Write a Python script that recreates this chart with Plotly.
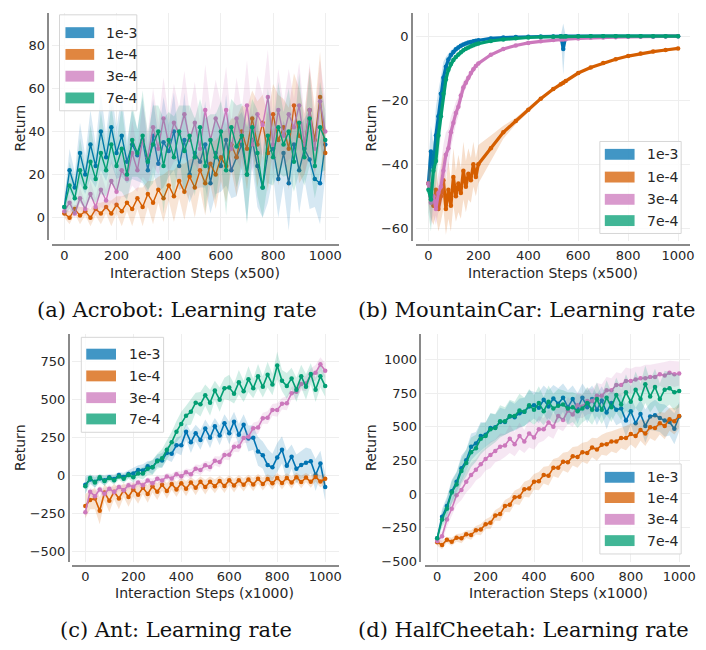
import numpy as np
import plotly.graph_objects as go

W, H = 706, 650
LABELS = ["1e-3", "1e-4", "3e-4", "7e-4"]
COLORS = ["#0173b2", "#d55e00", "#cc78bc", "#029e73"]

# ---------------- (a) Acrobot ----------------
A_steps = list(range(0, 1001, 20))
A_blue = [5, 22, 14, 30, 20, 34, 24, 40, 28, 42, 30, 38, 26, 34, 29, 36, 22, 38, 25, 35,
          31, 40, 24, 36, 20, 30, 26, 34, 16, 30, 24, 36, 22, 28, 34, 20, 36, 24, 14, 30,
          32, 18, 30, 16, 34, 22, 32, 27, 18, 16, 34]
A_orange = [2, 0, 4, 1, 3, 0, 4, 2, 5, 2, 6, 3, 7, 4, 9, 5, 11, 7, 13, 9,
            15, 10, 17, 12, 19, 14, 22, 16, 25, 20, 28, 24, 34, 28, 40, 32, 46, 34, 44, 30,
            48, 36, 42, 32, 52, 38, 34, 50, 36, 56, 30]
A_pink = [3, 7, 2, 9, 4, 11, 5, 13, 8, 17, 12, 22, 18, 30, 22, 36, 28, 42, 32, 46,
          34, 44, 39, 48, 36, 44, 32, 50, 36, 46, 40, 50, 32, 46, 36, 52, 34, 48, 43, 56,
          34, 50, 38, 48, 42, 52, 34, 50, 32, 54, 40]
A_green = [5, 15, 9, 22, 14, 26, 18, 30, 22, 34, 24, 32, 20, 36, 30, 38, 26, 34, 40, 24,
           36, 28, 40, 31, 38, 28, 42, 24, 36, 28, 40, 22, 42, 33, 38, 20, 42, 30, 14, 38,
           28, 42, 34, 40, 26, 44, 28, 46, 24, 42, 36]
A_blue_sd = [4, 10, 7, 14, 9, 16, 10, 18, 11, 17, 12, 19, 10, 16, 12, 20, 11, 17, 13, 21,
             12, 18, 11, 22, 13, 17, 12, 20, 14, 19, 12, 21, 13, 18, 15, 22, 12, 19, 14, 23,
             13, 18, 15, 22, 12, 20, 14, 23, 13, 19, 15]
A_orange_sd = [2, 3, 2, 4, 2, 4, 3, 5, 3, 6, 4, 7, 4, 8, 5, 9, 6, 10, 6, 11,
               7, 12, 8, 13, 8, 14, 9, 15, 10, 16, 11, 17, 12, 18, 12, 19, 13, 20, 13, 18,
               14, 21, 13, 19, 15, 22, 14, 20, 15, 21, 14]
A_pink_sd = [2, 4, 2, 5, 3, 6, 4, 8, 5, 10, 7, 12, 9, 15, 10, 17, 12, 18, 12, 19,
             13, 18, 12, 20, 13, 19, 12, 21, 14, 18, 13, 20, 12, 19, 14, 21, 13, 18, 14, 22,
             13, 19, 15, 21, 13, 20, 14, 22, 13, 19, 15]
A_green_sd = [4, 11, 8, 15, 10, 17, 11, 19, 12, 18, 11, 20, 12, 17, 11, 21, 13, 18, 12, 22,
              13, 19, 12, 21, 14, 18, 13, 22, 12, 20, 14, 21, 13, 19, 15, 23, 13, 20, 14, 22,
              13, 21, 15, 20, 14, 23, 13, 22, 15, 21, 14]

# ---------------- (b) MountainCar ----------------
B_steps = [0, 10, 20, 30, 40, 50, 60, 70, 80, 90, 100, 110, 120, 130, 140, 150, 160, 170, 180, 190,
           200, 250, 300, 350, 400, 450, 500, 530, 540, 550, 600, 650, 700, 750, 800, 850, 900, 950, 1000]
B_blue = [-46, -36, -41, -31, -25, -18, -13, -9.5, -7.3, -5.9, -4.9, -4.1, -3.5, -3.0, -2.6, -2.3, -2.0, -1.8, -1.6, -1.4,
          -1.25, -0.7, -0.4, -0.25, -0.15, -0.1, -0.05, 0, -4, 0, 0, 0, 0, 0, 0, 0, -0.1, 0, 0]
B_orange = [-46, -50, -53, -48, -54, -50, -45, -54, -48, -53, -44, -50, -46, -49, -42, -47, -43, -45, -40, -44,
            -40, -35, -30, -26.5, -23, -19.5, -16.5, -15, -14.5, -14, -11.5, -9.8, -8.4, -7.2, -6.2, -5.4, -4.8, -4.3, -3.8]
B_pink = [-46, -52, -50, -54, -49, -47, -42, -37, -35, -30, -27, -24, -22, -18.5, -16, -14.5, -13, -11.5, -10.3, -9.3,
          -8.5, -5.8, -4.0, -2.9, -2.1, -1.6, -1.2, -1.05, -1.0, -0.95, -0.7, -0.5, -0.4, -0.3, -0.2, -0.15, -0.1, -0.05, 0]
B_green = [-48, -51, -42, -39, -31, -25, -18, -13.5, -10.5, -8.7, -7.4, -6.5, -5.7, -5.0, -4.4, -3.9, -3.5, -3.1, -2.8, -2.5,
           -2.3, -1.5, -1.0, -0.6, -0.4, -0.25, -0.15, -0.12, -0.1, -0.1, -0.05, 0, 0, 0, 0, 0, 0, 0, 0]
B_blue_sd = [6, 8, 7, 9, 8, 6, 5, 3, 2, 1.5, 1.2, 1, 0.8, 0.7, 0.6, 0.5, 0.5, 0.4, 0.4, 0.3,
             0.3, 0.2, 0.2, 0.1, 0.1, 0.1, 0.1, 0.1, 8, 0.1, 0.1, 0.1, 0.1, 0.1, 0.1, 0.1, 0.2, 0.1, 0.1]
B_orange_sd = [6, 7, 6, 8, 7, 8, 9, 8, 9, 8, 9, 8, 9, 8, 9, 8, 8, 7, 7, 6,
               6, 4, 2, 1, 0.8, 0.6, 0.5, 0.5, 0.5, 0.5, 0.4, 0.4, 0.3, 0.3, 0.3, 0.2, 0.2, 0.2, 0.2]
B_pink_sd = [6, 7, 6, 5, 6, 7, 8, 7, 6, 5, 4, 3.5, 3, 2.5, 2, 1.6, 1.3, 1, 0.9, 0.8,
             0.7, 0.5, 0.4, 0.3, 0.3, 0.2, 0.2, 0.2, 0.2, 0.2, 0.2, 0.1, 0.1, 0.1, 0.1, 0.1, 0.1, 0.1, 0.1]
B_green_sd = [7, 10, 9, 8, 7, 5, 4, 3, 2, 1.5, 1.2, 1, 0.8, 0.7, 0.6, 0.5, 0.5, 0.4, 0.4, 0.3,
              0.3, 0.2, 0.2, 0.1, 0.1, 0.1, 0.1, 0.1, 0.1, 0.1, 0.1, 0.1, 0.1, 0.1, 0.1, 0.1, 0.1, 0.1, 0.1]

# ---------------- (c) Ant ----------------
C_steps = list(range(0, 1001, 20))
C_blue = [-60, -25, -40, -18, -30, -10, -22, 5, -8, 12, 15, 38, 35, 62, 55, 100, 100, 150, 145, 200,
          200, 290, 220, 280, 235, 310, 250, 325, 265, 345, 280, 355, 270, 335, 245, 250, 160, 135, 70, 55,
          120, 170, 65, 125, 45, 70, 85, 95, 5, 80, -75]
C_orange = [-200, -160, -150, -230, -110, -165, -105, -150, -95, -140, -90, -125, -80, -120, -70, -105, -60, -100, -55, -90,
            -50, -85, -45, -80, -40, -75, -40, -70, -35, -68, -30, -65, -30, -60, -25, -58, -20, -55, -22, -50,
            -15, -48, -15, -45, -10, -42, -12, -40, -8, -38, -20]
C_pink = [-240, -105, -135, -90, -118, -85, -108, -75, -95, -62, -72, -45, -62, -32, -50, -20, -32, -5, -18, 10,
          -4, 22, 10, 46, 37, 68, 58, 98, 90, 136, 138, 190, 192, 248, 257, 313, 317, 378, 382, 433,
          432, 473, 477, 543, 552, 603, 607, 663, 677, 733, 690]
C_green = [-70, -15, -45, -10, -35, -15, -30, -5, -20, 5, -10, 15, 15, 45, 55, 95, 115, 170, 220, 290,
           340, 395, 420, 480, 470, 530, 480, 560, 500, 575, 580, 540, 615, 555, 635, 575, 655, 585, 665, 600,
           725, 625, 590, 640, 565, 655, 585, 670, 565, 655, 590]
C_blue_sd = [60, 30, 40, 25, 35, 20, 30, 20, 28, 25, 35, 30, 40, 35, 45, 40, 50, 45, 55, 50,
             65, 55, 70, 55, 65, 60, 70, 55, 65, 60, 75, 65, 70, 70, 85, 80, 95, 90, 105, 90,
             95, 90, 100, 80, 95, 90, 100, 80, 105, 85, 90]
C_orange_sd = [80, 60, 70, 90, 55, 75, 50, 70, 45, 65, 45, 60, 40, 58, 40, 55, 38, 52, 38, 50,
               36, 50, 35, 48, 35, 48, 34, 46, 34, 46, 33, 45, 33, 44, 32, 44, 32, 43, 32, 42,
               31, 42, 31, 41, 30, 41, 30, 40, 30, 40, 32]
C_pink_sd = [40, 25, 35, 22, 32, 22, 30, 22, 30, 22, 30, 22, 30, 22, 30, 22, 30, 22, 30, 24,
             30, 26, 32, 28, 34, 28, 34, 30, 36, 30, 36, 32, 38, 34, 40, 36, 42, 36, 42, 38,
             44, 38, 46, 40, 48, 42, 50, 44, 52, 46, 50]
C_green_sd = [50, 25, 35, 22, 32, 22, 30, 22, 30, 25, 35, 30, 40, 40, 50, 50, 60, 60, 70, 70,
              80, 65, 85, 65, 80, 70, 85, 65, 80, 70, 85, 65, 80, 70, 85, 65, 80, 70, 85, 70,
              90, 70, 85, 70, 80, 75, 85, 70, 80, 75, 70]

# ---------------- (d) HalfCheetah ----------------
D_steps = list(range(0, 1001, 20))
D_blue = [-330, -170, -90, 20, 90, 190, 250, 350, 375, 430, 440, 490, 495, 535, 535, 575, 570, 600, 610, 650,
          660, 640, 700, 650, 710, 670, 715, 645, 705, 635, 715, 645, 705, 625, 695, 605, 675, 625, 635, 545,
          615, 525, 595, 505, 575, 585, 565, 545, 535, 485, 575]
D_orange = [-360, -380, -340, -355, -325, -330, -300, -305, -270, -265, -225, -215, -160, -150, -90, -80, -25, -20, 35, 40,
            90, 95, 140, 135, 195, 195, 240, 235, 280, 275, 310, 305, 345, 330, 365, 370, 390, 390, 415, 415,
            445, 430, 475, 450, 495, 490, 525, 505, 555, 540, 580]
D_pink = [-350, -315, -190, -110, -10, 30, 90, 140, 180, 220, 260, 290, 320, 350, 360, 410, 370, 430, 390, 450,
          420, 480, 480, 530, 500, 580, 550, 620, 590, 660, 650, 690, 690, 730, 730, 770, 770, 810, 810, 840,
          840, 850, 860, 860, 870, 870, 890, 880, 900, 890, 895]
D_green = [-330, -190, -110, 10, 70, 170, 230, 310, 340, 410, 430, 480, 490, 540, 540, 580, 580, 620, 610, 660,
           625, 675, 615, 685, 635, 655, 665, 635, 645, 615, 635, 675, 625, 705, 625, 715, 645, 735, 665, 755,
           685, 775, 705, 815, 725, 795, 705, 775, 785, 755, 765]
D_blue_sd = [30, 60, 70, 85, 75, 95, 80, 100, 85, 105, 90, 110, 95, 105, 95, 115, 100, 110, 105, 120,
             100, 115, 105, 120, 100, 115, 105, 125, 100, 115, 105, 120, 100, 115, 105, 125, 100, 115, 105, 120,
             100, 115, 105, 125, 100, 115, 105, 120, 100, 115, 110]
D_orange_sd = [25, 32, 22, 30, 28, 36, 28, 36, 32, 42, 36, 46, 40, 52, 45, 56, 50, 62, 55, 66,
               58, 68, 62, 72, 64, 76, 66, 78, 68, 80, 70, 82, 72, 84, 74, 86, 75, 88, 76, 90,
               78, 92, 80, 94, 82, 96, 84, 98, 86, 98, 90]
D_pink_sd = [25, 40, 55, 60, 70, 75, 80, 90, 80, 95, 85, 100, 85, 100, 85, 105, 90, 100, 85, 105,
             90, 100, 85, 100, 90, 95, 85, 100, 90, 95, 85, 100, 90, 95, 85, 100, 90, 95, 85, 100,
             90, 95, 85, 100, 90, 95, 85, 100, 90, 95, 90]
D_green_sd = [30, 60, 75, 85, 90, 95, 100, 110, 100, 115, 100, 120, 105, 120, 105, 120, 105, 125, 105, 120,
              110, 125, 105, 120, 110, 125, 105, 120, 110, 125, 105, 120, 110, 125, 105, 130, 110, 130, 115, 135,
              115, 135, 115, 140, 120, 135, 115, 140, 120, 135, 120]

PANELS = [
    dict(steps=A_steps, means=[A_blue, A_orange, A_pink, A_green],
         sds=[A_blue_sd, A_orange_sd, A_pink_sd, A_green_sd],
         xdom=(52, 342), ydom=(13, 243), ypos=48.7, xpos=247.7,
         xr=[-49, 1053], yr=[-10.5, 95], yt=[0, 20, 40, 60, 80],
         lw=1.4, ms=4.5, band=0.16,
         xlabel="Interaction Steps (x500)", xl=(197, 275.5), yl=(20, 130),
         caption="(a) Acrobot: Learning rate", cap=(179, 313),
         leg=dict(box=(60, 15, 138, 112), sw=(66, 95), tx=105, ys=[33, 55, 77, 99])),
    dict(steps=B_steps, means=[B_blue, B_orange, B_pink, B_green],
         sds=[B_blue_sd, B_orange_sd, B_pink_sd, B_green_sd],
         xdom=(420, 696), ydom=(13, 244), ypos=415.3, xpos=247.7,
         xr=[-48, 1048], yr=[-64.1, 7.3], yt=[-60, -40, -20, 0],
         lw=3.2, ms=4.5, band=0.2,
         xlabel="Interaction Steps (x500)", xl=(558, 275.5), yl=(374, 130),
         caption="(b) MountainCar: Learning rate", cap=(532, 313),
         leg=dict(box=(605, 143, 687, 236), sw=(610, 640), tx=651, ys=[156, 179, 201.5, 223])),
    dict(steps=C_steps, means=[C_blue, C_orange, C_pink, C_green],
         sds=[C_blue_sd, C_orange_sd, C_pink_sd, C_green_sd],
         xdom=(73, 342), ydom=(338, 568), ypos=69.3, xpos=571.7,
         xr=[-54, 1058], yr=[-567, 930], yt=[-500, -250, 0, 250, 500, 750],
         lw=1.6, ms=4.5, band=0.18,
         xlabel="Interaction Steps (x1000)", xl=(206, 599.5), yl=(20, 453),
         caption="(c) Ant: Learning rate", cap=(178, 637),
         leg=dict(box=(82, 341, 165, 437), sw=(87, 117), tx=128, ys=[358, 380, 402, 423.5])),
    dict(steps=D_steps, means=[D_blue, D_orange, D_pink, D_green],
         sds=[D_blue_sd, D_orange_sd, D_pink_sd, D_green_sd],
         xdom=(429, 696), ydom=(338, 568), ypos=424, xpos=571.7,
         xr=[-49, 1045], yr=[-505, 1186], yt=[-500, -250, 0, 250, 500, 750, 1000],
         lw=1.6, ms=4.5, band=0.18,
         xlabel="Interaction Steps (x1000)", xl=(563, 599.5), yl=(374, 453),
         caption="(d) HalfCheetah: Learning rate", cap=(528, 637),
         leg=dict(box=(605, 469, 687, 560), sw=(610, 640), tx=651, ys=[482.5, 503, 525, 546.5])),
]


def px(x):
    return x / W


def py(y):
    return 1 - y / H


def rgba(hexc, a):
    h = hexc.lstrip("#")
    r, g, b = int(h[0:2], 16), int(h[2:4], 16), int(h[4:6], 16)
    return f"rgba({r},{g},{b},{a})"


fig = go.Figure()
shapes = []
annotations = []
TXT = "#262626"
FONT = "DejaVu Sans"

for i, p in enumerate(PANELS):
    n = "" if i == 0 else str(i + 1)
    xa, ya = "x" + n, "y" + n
    steps = list(p["steps"])
    for mean, sd, color in zip(p["means"], p["sds"], COLORS):
        m = np.asarray(mean, float)
        s = np.asarray(sd, float)
        up, lo = m + s, m - s
        fig.add_trace(go.Scatter(
            x=steps + steps[::-1], y=list(up) + list(lo[::-1]),
            fill="toself", fillcolor=rgba(color, p["band"]), line=dict(width=0),
            mode="lines", hoverinfo="skip", showlegend=False, xaxis=xa, yaxis=ya))
        fig.add_trace(go.Scatter(
            x=steps, y=mean, mode="lines+markers",
            line=dict(color=color, width=p["lw"]), marker=dict(size=p["ms"], color=color),
            showlegend=False, xaxis=xa, yaxis=ya))

    common = dict(showgrid=True, gridcolor="#eeeeee", gridwidth=1, zeroline=False,
                  showline=True, linecolor="#8a8a8a", linewidth=1.5, ticks="",
                  tickfont=dict(family=FONT, size=13, color=TXT), anchor="free")
    fig.layout["xaxis" + n] = dict(
        domain=[px(p["xdom"][0]), px(p["xdom"][1])], position=py(p["xpos"]),
        range=p["xr"], tickvals=[0, 200, 400, 600, 800, 1000], ticklabelstandoff=-1, **common)
    fig.layout["yaxis" + n] = dict(
        domain=[py(p["ydom"][1]), py(p["ydom"][0])], position=px(p["ypos"]),
        range=p["yr"], tickvals=p["yt"], **common)

    annotations.append(dict(text=p["xlabel"], x=px(p["xl"][0]), y=py(p["xl"][1]),
                            xref="paper", yref="paper", showarrow=False,
                            xanchor="center", yanchor="middle",
                            font=dict(family=FONT, size=14, color=TXT)))
    annotations.append(dict(text="Return", x=px(p["yl"][0]), y=py(p["yl"][1]),
                            xref="paper", yref="paper", showarrow=False, textangle=-90,
                            xanchor="center", yanchor="middle",
                            font=dict(family=FONT, size=14, color=TXT)))
    annotations.append(dict(text=p["caption"], x=px(p["cap"][0]), y=py(p["cap"][1]),
                            xref="paper", yref="paper", showarrow=False,
                            xanchor="center", yanchor="middle",
                            font=dict(family="DejaVu Serif", size=21, color="#111111")))

    lg = p["leg"]
    x0, y0, x1, y1 = lg["box"]
    shapes.append(dict(type="rect", xref="paper", yref="paper",
                       x0=px(x0), x1=px(x1), y0=py(y1), y1=py(y0),
                       fillcolor="rgba(255,255,255,0.8)", line=dict(color="#d6d6d6", width=1)))
    for lab, color, yy in zip(LABELS, COLORS, lg["ys"]):
        shapes.append(dict(type="rect", xref="paper", yref="paper",
                           x0=px(lg["sw"][0]), x1=px(lg["sw"][1]),
                           y0=py(yy + 5.5), y1=py(yy - 5.5),
                           fillcolor=rgba(color, 0.75), line=dict(width=0)))
        annotations.append(dict(text=lab, x=px(lg["tx"]), y=py(yy), xref="paper", yref="paper",
                                showarrow=False, xanchor="left", yanchor="middle",
                                font=dict(family=FONT, size=14, color=TXT)))

fig.update_layout(width=W, height=H, margin=dict(l=0, r=0, t=0, b=0),
                  paper_bgcolor="white", plot_bgcolor="white",
                  showlegend=False, shapes=shapes, annotations=annotations)

fig.write_html("out.html")
